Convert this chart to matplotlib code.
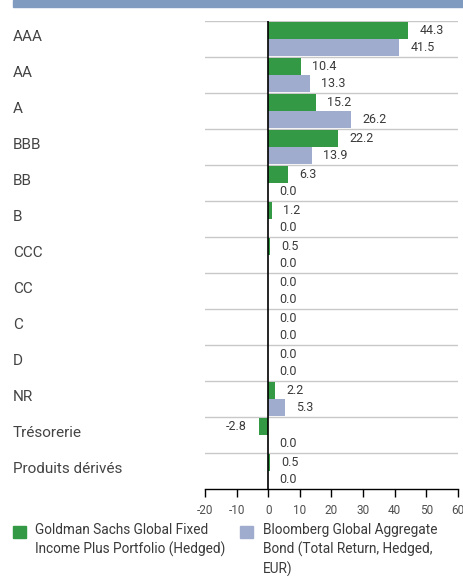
import matplotlib
matplotlib.use("Agg")
import matplotlib.pyplot as plt
from matplotlib.patches import Rectangle
from matplotlib.transforms import blended_transform_factory

categories = ["AAA", "AA", "A", "BBB", "BB", "B", "CCC", "CC", "C", "D", "NR",
              "Trésorerie", "Produits dérivés"]
fund = [44.3, 10.4, 15.2, 22.2, 6.3, 1.2, 0.5, 0.0, 0.0, 0.0, 2.2, -2.8, 0.5]
bench = [41.5, 13.3, 26.2, 13.9, 0.0, 0.0, 0.0, 0.0, 0.0, 0.0, 5.3, 0.0, 0.0]
xticks = [-20, -10, 0, 10, 20, 30, 40, 50, 60]
fund_name = "Goldman Sachs Global Fixed\nIncome Plus Portfolio (Hedged)"
bench_name = "Bloomberg Global Aggregate\nBond (Total Return, Hedged,\nEUR)"

GREEN = "#339944"
LAV = "#a0accd"
TXT = "#3a3a3a"

plt.rcParams['font.family'] = ['Liberation Sans Narrow', 'Roboto', 'DejaVu Sans']

W, H = 464, 576
fig = plt.figure(figsize=(W / 100, H / 100), dpi=100)

# header band
fig.patches.append(Rectangle((13 / W, 1 - 7 / H), 1 - 13 / W, 7 / H,
                             transform=fig.transFigure, color="#7f9bbf", zorder=0))

ax = fig.add_axes([205 / W, 1 - 489 / H, 253 / W, 468 / H])
n = len(categories)
ys = list(range(n))
h = 0.47
ax.barh([y - 0.245 for y in ys], fund, height=h, color=GREEN, zorder=2)
ax.barh([y + 0.245 for y in ys], bench, height=h, color=LAV, zorder=2)

ax.set_xlim(-20, 60)
ax.set_ylim(n - 0.5, -0.5)

for y, v in zip(ys, fund):
    if v < 0:
        ax.annotate(f"{v:.1f}", (v, y - 0.245), xytext=(-9, 0), textcoords="offset points",
                    ha="right", va="center", fontsize=9, color=TXT)
    else:
        ax.annotate(f"{v:.1f}", (v, y - 0.245), xytext=(8, 0), textcoords="offset points",
                    ha="left", va="center", fontsize=9, color=TXT)
for y, v in zip(ys, bench):
    ax.annotate(f"{v:.1f}", (max(v, 0), y + 0.245), xytext=(8, 0), textcoords="offset points",
                ha="left", va="center", fontsize=9, color=TXT)

# separators
for b in range(n):
    ax.axhline(b - 0.5, color="#c8c8c8", lw=1, zorder=1)
ax.axvline(0, color="black", lw=1.2, zorder=3)

for s in ["top", "left", "right"]:
    ax.spines[s].set_visible(False)
ax.spines["bottom"].set_color("black")
ax.spines["bottom"].set_linewidth(1)
ax.set_yticks([])
ax.set_xticks(xticks)
ax.set_xticklabels([str(t) for t in xticks], fontsize=8.5, color="#505050")
ax.tick_params(axis="x", length=6, width=1, color="black", pad=5)

# category labels
tr = blended_transform_factory(fig.transFigure, ax.transData)
for y, c in zip(ys, categories):
    ax.text(13 / W, y - 0.05, c, transform=tr, fontsize=11, color="#444444",
            ha="left", va="center")

# legend
fig.patches.append(Rectangle((13 / W, 1 - 538 / H), 13 / W, 12 / H,
                             transform=fig.transFigure, color=GREEN))
fig.text(35 / W, 1 - 523 / H, fund_name, fontsize=9.8, color=TXT,
         ha="left", va="top", linespacing=1.4)
fig.patches.append(Rectangle((240 / W, 1 - 538 / H), 13 / W, 12 / H,
                             transform=fig.transFigure, color=LAV))
fig.text(263 / W, 1 - 523 / H, bench_name, fontsize=9.8, color=TXT,
         ha="left", va="top", linespacing=1.4)

fig.savefig("out.png", dpi=100)
